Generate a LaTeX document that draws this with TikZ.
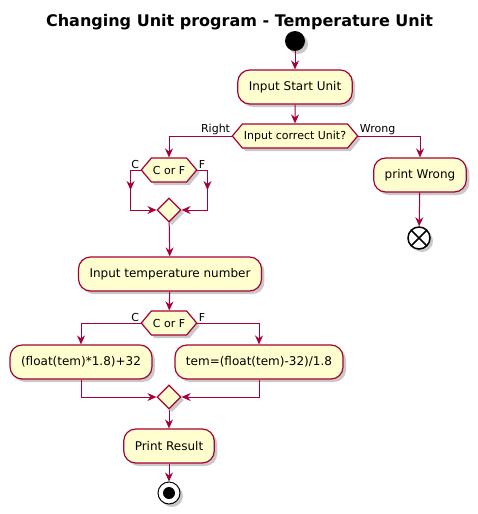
\documentclass[tikz,border=0pt]{standalone}
\usepackage{fontspec}
\setmainfont{DejaVu Sans}
\usetikzlibrary{positioning, shapes.geometric, shapes.symbols, arrows.meta, shadows}
\definecolor{umlred}{HTML}{A80036}
\definecolor{umlfill}{HTML}{FEFECE}
\tikzstyle{umlshadow} = [drop shadow={shadow xshift=3pt, shadow yshift=-3pt, opacity=0.3, fill=black!70}]
\tikzstyle{startnode} = [circle, fill=black, minimum size=20pt, inner sep=0pt, umlshadow]
\tikzstyle{stopnode} = [circle, draw=black, line width=1pt, fill=white, minimum size=22pt, inner sep=0pt, umlshadow, path picture={\fill[black] (path picture bounding box.center) circle (6pt);}]
\tikzstyle{killnode} = [circle, draw=black, line width=1.5pt, fill=white, minimum size=22pt, inner sep=0pt, umlshadow, path picture={\draw[black, line width=1.5pt] (path picture bounding box.north west) -- (path picture bounding box.south east) (path picture bounding box.north east) -- (path picture bounding box.south west);}]
\tikzstyle{activity} = [rectangle, rounded corners=12pt, minimum height=34pt, inner xsep=11pt, text centered, draw=umlred, fill=umlfill, line width=1.2pt, font=\fontsize{12}{14}\selectfont, umlshadow]
\tikzstyle{decision} = [signal, signal to=east and west, signal pointer angle=100, minimum height=24pt, inner xsep=1.5pt, inner ysep=0pt, text centered, draw=umlred, fill=umlfill, line width=1.2pt, font=\fontsize{11}{13}\selectfont, umlshadow]
\tikzstyle{merge} = [diamond, minimum width=24pt, minimum height=24pt, inner sep=0pt, draw=umlred, fill=umlfill, line width=1.2pt, umlshadow]
\tikzstyle{lbl} = [font=\fontsize{11}{13}\selectfont, inner sep=1pt]
\tikzstyle{arrow} = [draw=umlred, line width=1pt, ->, >={Stealth[length=9pt, width=8pt, inset=3pt]}]

\begin{document}
\begin{tikzpicture}[node distance=49pt]
\useasboundingbox (0,0) rectangle (478pt,-514pt);

%Nodes
\node (title) at (239.5pt,-22pt) {\fontsize{16}{18}\selectfont\bfseries Changing Unit program - Temperature Unit};
\node (start) [startnode] at (295pt,-41pt) {};
\node (in1) [activity, below of=start, yshift=3pt] {Input Start Unit};
\node (dec1) [decision, below of=in1] {Input correct Unit?};
\node (cf1) [decision, below of=dec1, xshift=-126pt, yshift=15pt] {C or F};
\node (wrong) [activity, below of=dec1, xshift=125pt, yshift=10pt] {print Wrong};
\node (kill) [killnode, below of=wrong, xshift=-1pt, yshift=-14pt] {};
\node (merge1) [merge, below of=cf1, yshift=9pt] {};
\node (in2) [activity, below of=merge1, xshift=1pt, yshift=-15pt] {Input temperature number};
\node (cf2) [decision, below of=in2, xshift=-1pt] {C or F};
\node (calc1) [activity, below of=cf2, xshift=-88pt, yshift=10pt] {(float(tem)*1.8)+32};
\node (calc2) [activity, below of=cf2, xshift=90pt, yshift=10pt] {tem=(float(tem)-32)/1.8};
\node (merge2) [merge, below of=cf2, yshift=-25pt] {};
\node (result) [activity, below of=merge2] {Print Result};
\node (stop) [stopnode, below of=result, yshift=2pt] {};

%Arrows
\draw [arrow] (start) -- (in1);
\draw [arrow] (in1) -- (dec1);
\draw [arrow] (dec1.west) node[lbl, anchor=south east] {Right} -| (cf1.north);
\draw [arrow] (dec1.east) node[lbl, anchor=south west] {Wrong} -| (wrong.north);
\draw [arrow] (wrong) -- (kill);
\draw [arrow] (cf1.west) node[lbl, anchor=south east] {C} -- ++(-10pt,0) -- ++(0,-20pt);
\draw [arrow] (cf1.west) ++(-10pt,0) |- (merge1.west);
\draw [arrow] (cf1.east) node[lbl, anchor=south west] {F} -- ++(10pt,0) -- ++(0,-20pt);
\draw [arrow] (cf1.east) ++(10pt,0) |- (merge1.east);
\draw [arrow] (merge1) -- (in2);
\draw [arrow] (in2) -- (cf2);
\draw [arrow] (cf2.west) node[lbl, anchor=south east] {C} -| (calc1.north);
\draw [arrow] (cf2.east) node[lbl, anchor=south west] {F} -| (calc2.north);
\draw [arrow] (calc1.south) |- (merge2.west);
\draw [arrow] (calc2.south) |- (merge2.east);
\draw [arrow] (merge2) -- (result);
\draw [arrow] (result) -- (stop);

\end{tikzpicture}
\end{document}
